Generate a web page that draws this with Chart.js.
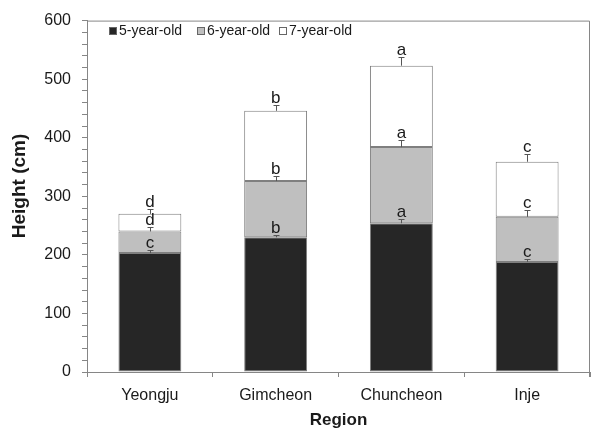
<!DOCTYPE html>
<html>
<head>
<meta charset="utf-8">
<script src="https://cdn.jsdelivr.net/npm/chart.js@4.4.0/dist/chart.umd.min.js"></script>
<style>
html,body{margin:0;padding:0;background:#fff;}
#wrap{width:592px;height:431px;position:relative;}
</style>
</head>
<body>
<div id="wrap"><canvas id="c" width="592" height="431"></canvas></div>
<script>
const regions = ['Yeongju', 'Gimcheon', 'Chuncheon', 'Inje'];
const seriesNames = ['5-year-old', '6-year-old', '7-year-old'];
// segment heights (cm)
const age5 = [203, 230, 254, 188];
const age6 = [37, 96, 130, 77];
const age7 = [30, 120, 139, 94];
// standard errors
const err5 = [6, 4, 8, 5];
const err6 = [7, 8, 12, 11];
const err7 = [8, 10, 15, 13];
// significance letters
const let5 = ['c', 'b', 'a', 'c'];
const let6 = ['d', 'b', 'a', 'c'];
const let7 = ['d', 'b', 'a', 'c'];
const yTicks = [0, 100, 200, 300, 400, 500, 600];
const yTitle = 'Height (cm)';

const fills = ['#262626', '#bfbfbf', '#ffffff'];
const segs = [age5, age6, age7];
const errs = [err5, err6, err7];
const lets = [let5, let6, let7];
const axisGray = '#868686';
const textCol = '#1a1a1a';
const FONT = '"Liberation Sans", Arial, sans-serif';

const decor = {
  id: 'decor',
  afterDatasetsDraw(chart) {
    const ctx = chart.ctx;
    const y = chart.scales.y;
    const ca = chart.chartArea;
    ctx.save();
    // frame top/right
    ctx.strokeStyle = axisGray;
    ctx.lineWidth = 1;
    ctx.beginPath();
    ctx.moveTo(ca.left, ca.top + 0.5);
    ctx.lineTo(ca.right - 0.5, ca.top + 0.5);
    ctx.lineTo(ca.right - 0.5, ca.bottom + 5);
    ctx.stroke();
    // error bars & letters
    for (let d = 0; d < 3; d++) {
      const meta = chart.getDatasetMeta(d);
      meta.data.forEach((bar, j) => {
        let cum = 0;
        for (let k = 0; k <= d; k++) cum += segs[k][j];
        const yTop = y.getPixelForValue(cum);
        const yErr = y.getPixelForValue(cum + errs[d][j]);
        const x = Math.round(bar.x) + 0.5;
        ctx.strokeStyle = '#555';
        ctx.beginPath();
        ctx.moveTo(x, yTop);
        ctx.lineTo(x, Math.round(yErr) + 0.5);
        ctx.moveTo(x - 3, Math.round(yErr) + 0.5);
        ctx.lineTo(x + 3, Math.round(yErr) + 0.5);
        ctx.stroke();
        ctx.fillStyle = textCol;
        ctx.font = '17px ' + FONT;
        ctx.textAlign = 'center';
        ctx.textBaseline = 'alphabetic';
        ctx.fillText(lets[d][j], bar.x, yErr - 2);
      });
    }
    // legend
    ctx.font = '14px ' + FONT;
    ctx.textAlign = 'left';
    ctx.textBaseline = 'middle';
    const lx = [109, 197, 279];
    const ly = 31;
    for (let i = 0; i < 3; i++) {
      ctx.fillStyle = fills[i];
      ctx.fillRect(lx[i], ly - 4, 8, 8);
      ctx.strokeStyle = '#666';
      ctx.strokeRect(lx[i] + 0.5, ly - 3.5, 7, 7);
      ctx.fillStyle = textCol;
      ctx.fillText(seriesNames[i], lx[i] + 10, ly);
    }
    // y axis title
    ctx.translate(20, 186);
    ctx.rotate(-Math.PI / 2);
    ctx.font = 'bold 19px ' + FONT;
    ctx.textAlign = 'center';
    ctx.textBaseline = 'middle';
    ctx.fillText(yTitle, 0, 0);
    ctx.restore();
  }
};

new Chart(document.getElementById('c'), {
  type: 'bar',
  data: {
    labels: regions,
    datasets: seriesNames.map((n, i) => ({
      label: n,
      data: segs[i],
      backgroundColor: fills[i],
      borderColor: '#7f7f7f',
      borderWidth: 1,
      borderSkipped: false,
      categoryPercentage: 1,
      barPercentage: 0.5
    }))
  },
  options: {
    responsive: false,
    animation: false,
    devicePixelRatio: 1,
    layout: { padding: { top: 16, right: 2, left: 0, bottom: 0 } },
    plugins: { legend: { display: false }, tooltip: { enabled: false } },
    scales: {
      x: {
        stacked: true,
        afterFit(s) { s.height = 59; },
        grid: { display: true, drawOnChartArea: false, tickLength: 5, color: axisGray, offset: true },
        border: { color: axisGray },
        ticks: { color: textCol, font: { size: 16, family: FONT }, padding: 9 },
        title: { display: true, text: 'Region', color: textCol, font: { size: 17, weight: 'bold', family: FONT }, padding: { top: 0, bottom: 0 } }
      },
      y: {
        stacked: true,
        min: 0, max: 600,
        afterFit(s) { s.width = 87; },
        grid: { display: true, drawOnChartArea: false, tickLength: 5, color: axisGray },
        border: { color: axisGray },
        ticks: {
          stepSize: 20,
          autoSkip: false,
          color: textCol,
          font: { size: 16, family: FONT },
          padding: 11,
          callback: v => yTicks.includes(v) ? String(v) : ''
        },
        title: { display: false }
      }
    }
  },
  plugins: [decor]
});
</script>
</body>
</html>
